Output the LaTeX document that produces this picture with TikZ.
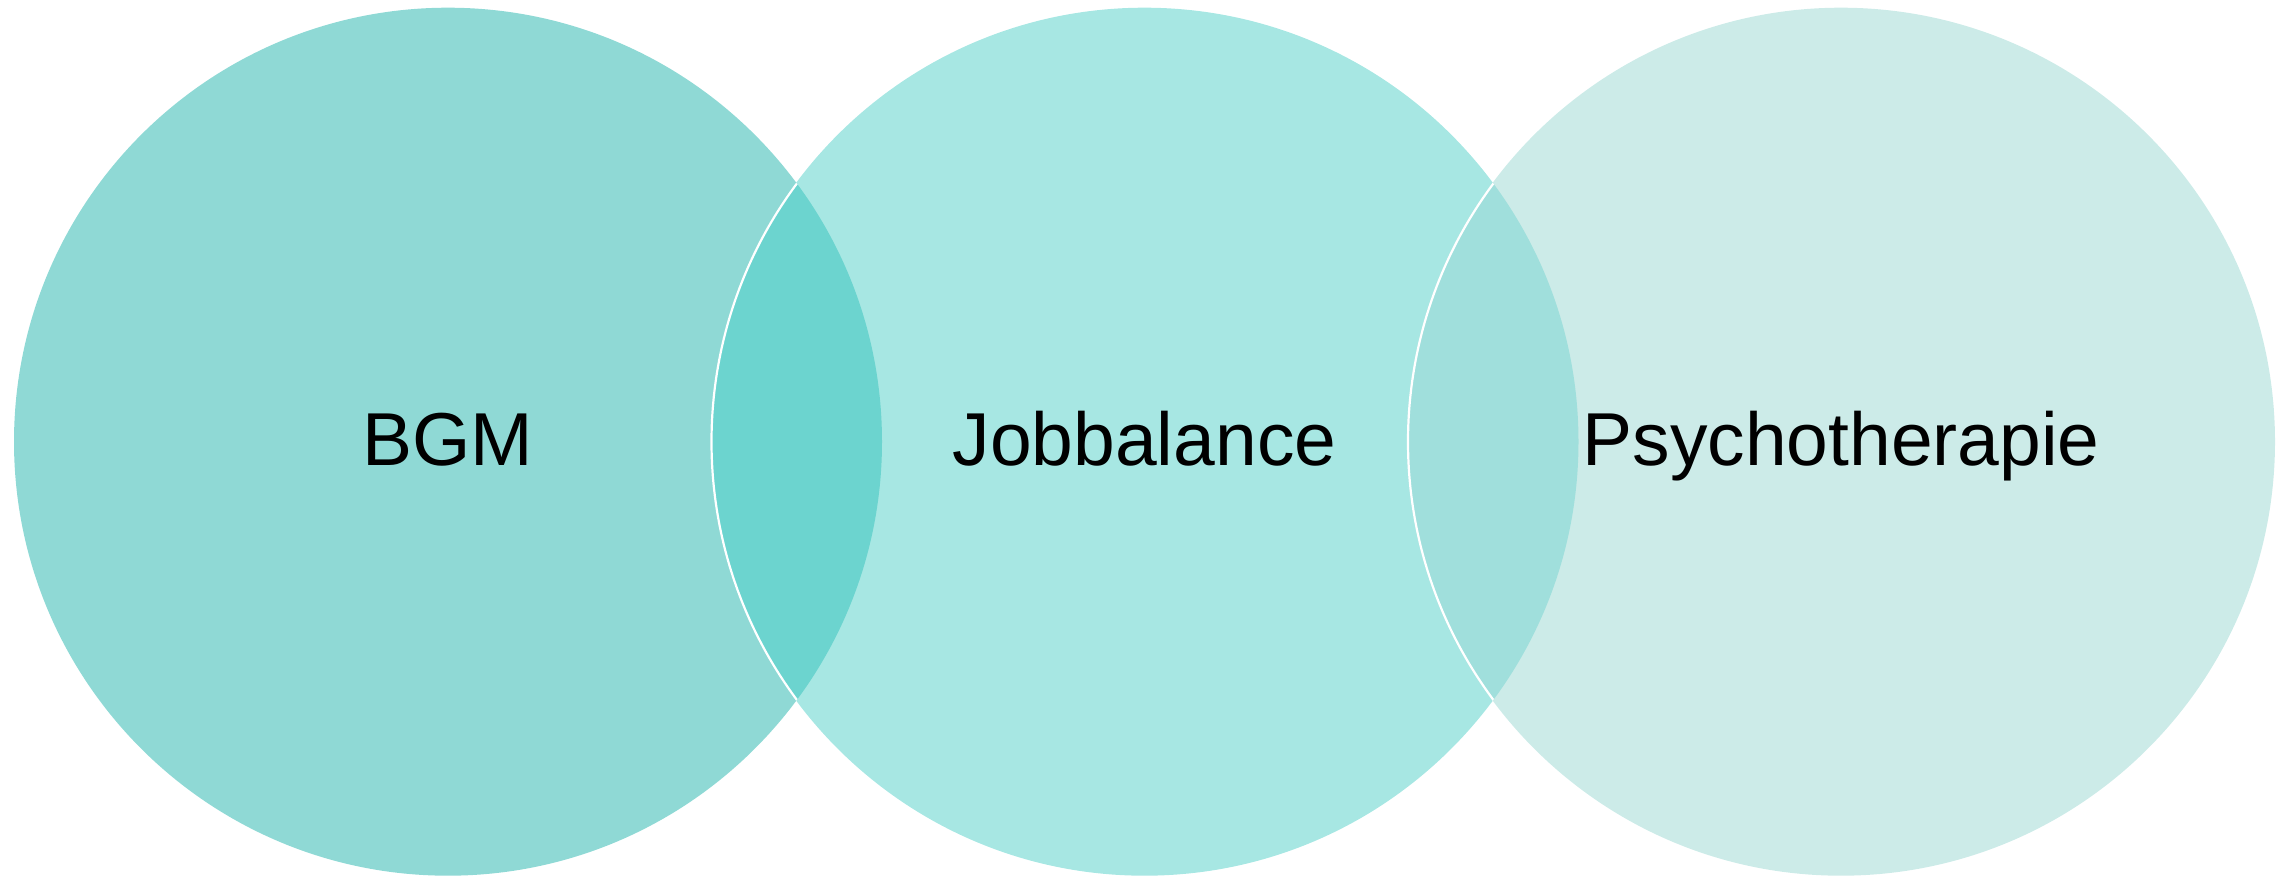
\documentclass[tikz,border=0pt]{standalone}
\usepackage{fontspec}
\setmainfont{Liberation Sans}
\definecolor{bgmfill}{HTML}{8FD9D5}
\definecolor{jobfill}{HTML}{A7E7E3}
\definecolor{psyfill}{HTML}{CCEBE8}
\definecolor{bgmjob}{HTML}{6CD4CF}
\definecolor{jobpsy}{HTML}{A0DFDC}
\begin{document}
\begin{tikzpicture}[x=1pt,y=-1pt,
  disc/.style={circle,minimum size=868pt,inner sep=0pt,outer sep=0pt},
  label/.style={anchor=base,inner sep=0pt,font=\fontsize{75}{90}\selectfont}]
\useasboundingbox (0,0) rectangle (2287,877);
% the three sets
\node[disc,fill=bgmfill] (bgm) at (448,441.7) {};
\node[disc,fill=jobfill] (job) at (1144.5,441.7) {};
\node[disc,fill=psyfill] (psy) at (1841,441.7) {};
% overlaps
\begin{scope}
  \clip (bgm.center) circle (434);
  \fill[bgmjob] (job.center) circle (434);
  \draw[white,line width=2.2pt] (job.center) circle (433);
\end{scope}
\begin{scope}
  \clip (job.center) circle (434);
  \fill[jobpsy] (psy.center) circle (434);
  \draw[white,line width=2.2pt] (psy.center) circle (433);
\end{scope}
% labels
\node[label] (tbgm) at (448,465.3) {BGM};
\node[label] (tjob) at (1144.5,465.3) {Jobbalance};
\node[label] (tpsy) at (1841,465.3) {Psychotherapie};
\end{tikzpicture}
\end{document}
